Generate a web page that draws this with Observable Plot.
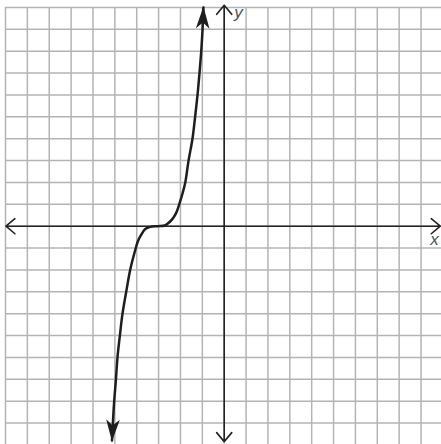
<!DOCTYPE html>
<html>
<head>
<meta charset="utf-8">
<script src="https://cdn.jsdelivr.net/npm/d3@7"></script>
<script src="https://cdn.jsdelivr.net/npm/@observablehq/plot@0.6"></script>
<style>
  html, body { margin: 0; padding: 0; background: #fff; }
  svg { display: block; }
</style>
</head>
<body>
<script>
// Grid ticks (one unit per square)
const gridTicks = d3.range(-10, 11);

// Curve points
const curveX = [-5.13, -5.09, -5.03, -4.95, -4.88, -4.77, -4.65, -4.48, -4.30, -4.07, -3.95, -3.80, -3.61, -3.38, -3.04, -2.72, -2.58, -2.39, -2.20, -2.05, -1.90, -1.78, -1.63, -1.45, -1.33, -1.22, -1.13, -1.05, -0.99, -0.95];
const curveY = [-9.8, -9, -8, -7, -6, -5, -4, -3, -2, -1.1, -0.7, -0.4, -0.13, -0.03, 0, 0.03, 0.12, 0.3, 0.6, 1.02, 1.52, 2, 3, 4, 5, 6, 7, 8, 9, 10];

// Axis arrow ends (data units)
const axisXEnds = [-9.98, 9.88];
const axisYEnds = [-9.85, 10.1];

// Axis labels
const axisLabels = [
  {text: "y", x: 0.65, y: 9.75},
  {text: "x", x: 9.62, y: -0.62}
];

const curve = curveX.map((x, i) => ({x, y: curveY[i]}));

function stealth(orient) {
  return (color, context) => {
    const m = d3.create("svg:marker")
      .attr("viewBox", "-24 -8 28 16")
      .attr("markerWidth", 28)
      .attr("markerHeight", 16)
      .attr("markerUnits", "userSpaceOnUse")
      .attr("refX", 0)
      .attr("refY", 0)
      .attr("orient", orient)
      .attr("fill", color)
      .attr("stroke", "none");
    m.append("path").attr("d", "M1,0 L-21,-6.8 L-15,0 L-21,6.8 Z");
    return m.node();
  };
}

const chart = Plot.plot({
  width: 441,
  height: 444,
  margin: 0,
  x: {domain: [-10, 10], range: [5, 442.4], axis: null},
  y: {domain: [-10, 10], range: [444.4, 7], axis: null},
  style: {background: "#fff"},
  marks: [
    Plot.ruleX(gridTicks, {x: d => d, y1: -10, y2: 10, stroke: "#b4b4b4", strokeWidth: 1.5, strokeOpacity: 1}),
    Plot.ruleY(gridTicks, {y: d => d, x1: -10, x2: 10, stroke: "#b4b4b4", strokeWidth: 1.5, strokeOpacity: 1}),
    Plot.arrow(axisXEnds, {x1: 0, y1: 0, x2: d => d, y2: 0, stroke: "#222", strokeWidth: 1.6, headLength: 11, headAngle: 80}),
    Plot.arrow(axisYEnds, {x1: 0, y1: 0, x2: 0, y2: d => d, stroke: "#222", strokeWidth: 1.6, headLength: 11, headAngle: 80}),
    Plot.line(curve, {x: "x", y: "y", curve: "catmull-rom", stroke: "#1e1e1e", strokeWidth: 2.5,
      markerStart: stealth("auto-start-reverse"), markerEnd: stealth("auto")}),
    Plot.text(axisLabels, {x: "x", y: "y", text: "text", fill: "#4a5466", fontSize: 17, fontStyle: "italic", fontFamily: "Liberation Sans, Arial, sans-serif", textAnchor: "middle"})
  ]
});
document.body.appendChild(chart);
</script>
</body>
</html>
